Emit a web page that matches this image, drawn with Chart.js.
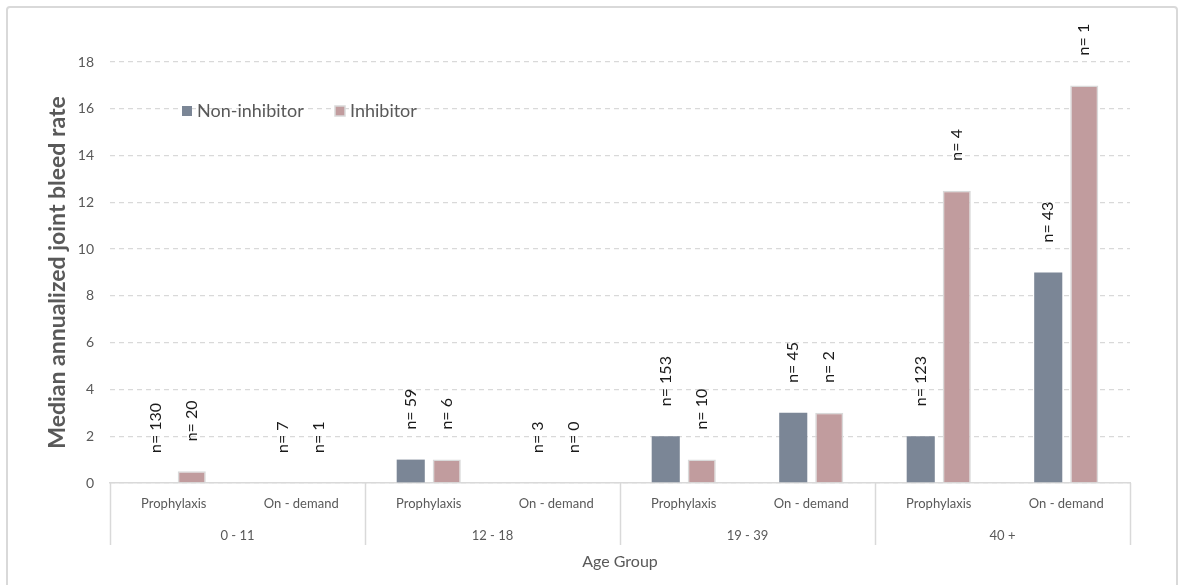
<!DOCTYPE html>
<html>
<head>
<meta charset="utf-8">
<script src="https://cdn.jsdelivr.net/npm/chart.js@4.4.1/dist/chart.umd.min.js"></script>
<style>
  html,body{margin:0;padding:0;background:#fff;}
  #wrap{position:relative;width:1184px;height:585px;overflow:hidden;}
  #card{position:absolute;left:6px;top:6px;width:1172px;height:590px;border:2px solid #d9d9d9;border-radius:4px;box-sizing:border-box;}
  canvas{position:absolute;left:0;top:0;}
</style>
</head>
<body>
<div id="wrap">
  <div id="card"></div>
  <canvas id="chart" width="1184" height="585"></canvas>
</div>
<script>
// dados
const treatments = ['Prophylaxis','On - demand','Prophylaxis','On - demand','Prophylaxis','On - demand','Prophylaxis','On - demand'];
const ageGroups = ['0 - 11','12 - 18','19 - 39','40 +'];
const nonInhibitor = [0, 0, 1, 0, 2, 3, 2, 9];
const inhibitor = [0.5, 0, 1, 0, 1, 3, 12.5, 17];
const nNonInhibitor = [130, 7, 59, 3, 153, 45, 123, 43];
const nInhibitor = [20, 1, 6, 0, 10, 2, 4, 1];
const yTicks = [0, 2, 4, 6, 8, 10, 12, 14, 16, 18];

const FONT = 'Lato, "Open Sans", sans-serif';
const GREY = '#595959';
const LINE = '#d9d9d9';
const COL_NI = '#7b8696';
const COL_I = '#c19c9e';

// rótulos "n= x" na vertical, acima de cada barra
const nLabels = {
  id:'nLabels',
  afterDatasetsDraw(chart){
    const ctx = chart.ctx;
    chart.data.datasets.forEach((ds, di)=>{
      const meta = chart.getDatasetMeta(di);
      meta.data.forEach((bar, i)=>{
        const txt = 'n= ' + ds.nValues[i];
        ctx.save();
        ctx.translate(bar.x, bar.y - 30);
        ctx.rotate(-Math.PI/2);
        ctx.font = '16px ' + FONT;
        ctx.fillStyle = '#1a1a1a';
        ctx.textAlign = 'left';
        ctx.textBaseline = 'middle';
        ctx.fillText(txt, 0, 0);
        ctx.restore();
      });
    });
  }
};

// segundo nível do eixo x (faixa etária) + legenda dentro da área
const extras = {
  id:'extras',
  afterDraw(chart){
    const ctx = chart.ctx;
    const xs = chart.scales.x;
    const area = chart.chartArea;
    const half = (xs.getPixelForValue(1) - xs.getPixelForValue(0)) / 2;
    ctx.save();
    ctx.strokeStyle = LINE;
    ctx.lineWidth = 1.5;
    for(let g=0; g<=ageGroups.length; g++){
      const x = g < ageGroups.length ? xs.getPixelForValue(g*2) - half : xs.getPixelForValue(g*2-1) + half;
      ctx.beginPath();
      ctx.moveTo(Math.round(x)+0.5, area.bottom);
      ctx.lineTo(Math.round(x)+0.5, area.bottom + 62);
      ctx.stroke();
    }
    ctx.font = '13px ' + FONT;
    ctx.fillStyle = GREY;
    ctx.textAlign = 'center';
    ctx.textBaseline = 'middle';
    ageGroups.forEach((g, i)=>{
      const x = (xs.getPixelForValue(i*2) + xs.getPixelForValue(i*2+1)) / 2;
      ctx.fillText(g, x, area.bottom + 53);
    });

    // legenda
    let lx = area.left + 72;
    const ly = area.top + 49;
    ctx.font = '18px ' + FONT;
    ctx.textAlign = 'left';
    chart.data.datasets.forEach((ds)=>{
      ctx.fillStyle = ds.backgroundColor;
      ctx.fillRect(lx, ly - 5, 10, 10);
      if(ds.legendBorder){
        ctx.strokeStyle = LINE;
        ctx.lineWidth = 1.5;
        ctx.strokeRect(lx, ly - 5, 10, 10);
      }
      ctx.fillStyle = GREY;
      ctx.fillText(ds.label, lx + 15, ly);
      lx += 153;
    });
    ctx.restore();
  }
};

new Chart(document.getElementById('chart'), {
  type:'bar',
  data:{
    labels: treatments,
    datasets:[
      { label:'Non-inhibitor', data: nonInhibitor, nValues: nNonInhibitor,
        backgroundColor: COL_NI, borderWidth: 0,
        categoryPercentage: 0.565, barPercentage: 0.78 },
      { label:'Inhibitor', data: inhibitor, nValues: nInhibitor, legendBorder: true,
        backgroundColor: COL_I, borderColor: LINE,
        borderWidth: (c)=> (c.raw > 0 ? 1.5 : 0), borderSkipped: 'start',
        categoryPercentage: 0.565, barPercentage: 0.78 }
    ]
  },
  options:{
    responsive:false,
    animation:false,
    layout:{ padding:{ left:40, right:54, top:62, bottom:0 } },
    plugins:{ legend:{ display:false }, tooltip:{ enabled:false } },
    scales:{
      x:{
        grid:{ display:false, drawTicks:false },
        border:{ display:true, color: LINE, width: 1.5 },
        ticks:{ color: GREY, font:{ family: FONT, size: 13 }, padding: 13, maxRotation: 0, autoSkip:false },
        title:{ display:true, text:'Age Group', color: GREY, font:{ family: FONT, size: 16 }, padding:{ top:0, bottom:14 } },
        afterFit(s){ s.height = 102; }
      },
      y:{
        min:0, max:18,
        afterBuildTicks(s){ s.ticks = yTicks.map(v=>({ value:v })); },
        grid:{ color: LINE, lineWidth: 1.3, drawTicks:false },
        border:{ display:false, dash:[5,4] },
        ticks:{ color: GREY, font:{ family: FONT, size: 14 }, padding: 16 },
        title:{ display:true, text:'Median annualized joint bleed rate', color: GREY,
          font:{ family: FONT, size: 23, weight:'bold' }, padding:{ top:4, bottom:0 } },
        afterFit(s){ s.width = 70; }
      }
    }
  },
  plugins:[nLabels, extras]
});
</script>
</body>
</html>
